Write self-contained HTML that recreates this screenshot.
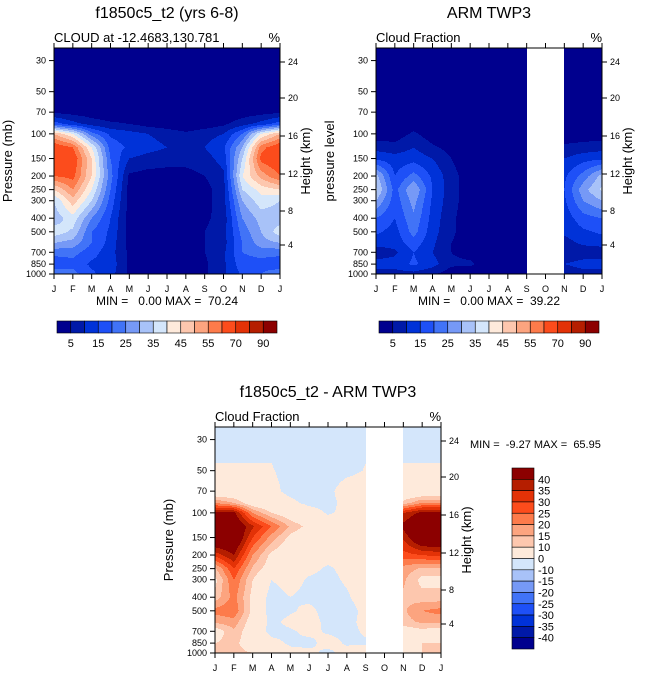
<!DOCTYPE html>
<html><head><meta charset="utf-8">
<style>
html,body{margin:0;padding:0;background:#fff;}
svg{display:block;font-family:"Liberation Sans",sans-serif;}
text{white-space:pre;}
</style></head>
<body>
<svg id="chart" width="647" height="676" viewBox="0 0 647 676" xmlns="http://www.w3.org/2000/svg">
<g id="layer"></g>
</svg>
<script>
// ---------- data ----------
const months = ['J','F','M','A','M','J','J','A','S','O','N','D','J'];
const pressureLevels = [24.4,50,70,85,100,125,150,200,250,300,400,500,600,700,850,1000];
const pressureTicks = [30,50,70,100,150,200,250,300,400,500,700,850,1000];
const heightTicks = [24,20,16,12,8,4];
const boundsFull = [5,10,15,20,25,30,35,40,45,50,55,60,70,80,90];
const boundsDiff = [-40,-35,-30,-25,-20,-15,-10,0,10,15,20,25,30,35,40];
const colorbarLabelsFull = ['5','15','25','35','45','55','70','90'];
const colorbarLabelsDiff = ['40','35','30','25','20','15','10','0','-10','-15','-20','-25','-30','-35','-40'];
const palette = ['#00008e','#0019a8','#0032d8','#1e50f7','#4173f7','#7699f6','#a8c2f8','#d4e6fb','#feeadb','#fdc7ae','#fca47f','#fd7b4b','#fc4c1c','#e33207','#b51e00','#8c0000'];

const modelCloud = [
[0,0,0,0,0,0,0,0,0,0,0,0,0],
[0,0,0,0,0,0,0,0,0,0,0,0,0],
[4,3,2,1,1,0.5,0,0,0,0.5,2,3,4],
[18,12,8,6,5,3,2,1,2,4,8,12,18],
[50,40,22,14,12,10,8,6,8,10,20,40,50],
[65,60,40,18,14,12,10,8,10,14,30,58,65],
[66,65,45,20,10,8,7,7,8,12,35,62,66],
[60,62,45,22,4,3,3,3,5,9,40,52,60],
[45,55,40,20,3,2,2,2,3,8,35,42,45],
[35,48,35,18,3,1,1,1,3,8,30,38,35],
[32,38,25,15,3,1,1,1,4,7,25,32,32],
[38,34,20,14,3,1,1,1,5,8,22,30,38],
[30,28,20,13,3,1,1,1,5,8,20,28,30],
[22,22,17,12,4,1,1,1,5,9,20,22,22],
[16,18,14,13,4,1,1,1,4,9,18,18,16],
[24,22,16,12,4,1,1,1,4,9,16,20,24]];

const obsCloud = [
[0,0,0,0,0,0,0,0,0,null,0,0,0],
[0,0,0,0,0,0,0,0,0,null,0,0,0],
[0,0,0,0,0,0,0,0,0,null,0,0,0],
[1,1,2,1,0,0,0,0,0,null,1,1,1],
[2,2,6,2,1,0,0,0,0,null,2,2,2],
[8,7,10,6,3,1,0,0,1,null,6,7,8],
[14,12,13,10,5,1,0,0,1,null,10,13,14],
[32,15,22,14,7,2,1,1,1,null,14,22,32],
[36,18,30,15,7,2,1,1,1,null,15,28,36],
[30,17,27,14,7,2,1,1,1,null,14,25,30],
[20,15,24,13,6,2,1,1,1,null,12,18,20],
[16,13,22,12,6,2,1,1,1,null,11,14,16],
[12,12,18,11,5,2,1,1,1,null,8,11,12],
[7,9,15,10,5,3,1,1,1,null,6,7,7],
[12,12,16,12,6,6,2,1,1,null,10,12,12],
[8,8,8,6,2,1,1,1,1,null,6,8,8]];

const diffCloud = [
[-1,-1,-1,-1,-1,-1,-1,-1,-1,null,-1,-1,-1],
[0.2,0.2,0.2,0.2,-1,-2,-2,-1,0.2,null,0.2,0.2,0.2],
[2,2,2,1,-1,-2,-1,2,2,null,2,2,2],
[20,15,5,2,1,-1,-1,1,2,null,12,20,20],
[42,42,20,10,5,2,-0.5,1,3,null,35,42,42],
[50,48,36,25,14,8,3,3,8,null,42,50,50],
[50,50,30,18,8,4,3,3,5,null,36,50,50],
[32,40,20,8,4,3,3,3,3,null,28,30,32],
[14,30,14,6,4,2,-1,2,3,null,18,14,14],
[8,25,10,0,3,-1,-2,1,3,null,16,8,8],
[12,22,8,-3,0,-2,-3,-1,4,null,14,12,12],
[22,24,8,-3,-1,2,-3,-3,2,null,14,20,22],
[16,18,6,-2,2,3,-2,-2,2,null,13,16,16],
[6,14,5,-2,-1,2,-1,-2,1,null,6,8,6],
[10,12,5,2,-1,-2,3,-1,-1,null,5,10,10],
[12,12,10,6,2,2,-2,3,4,null,6,10,12]];

// ---------- helpers ----------
const NS='http://www.w3.org/2000/svg';
const layer=document.getElementById('layer');
function mk(tag,attrs,parent){const e=document.createElementNS(NS,tag);for(const k in attrs)e.setAttribute(k,attrs[k]);(parent||layer).appendChild(e);return e;}
function txt(x,y,s,size,anchor,parent,rot){const e=mk('text',{x:x,y:y,'font-size':size,'text-anchor':anchor||'start',fill:'#000'},parent);if(rot)e.setAttribute('transform','rotate(-90 '+x+' '+y+')');e.textContent=s;return e;}
const PTOP=24.4, LTOT=Math.log10(1000/PTOP);
function colorIdx(v,b){let i=0;while(i<b.length&&v>=b[i])i++;return i;}
function valueAt(data,m,p){
  const lp=Math.log10(p);
  let r=0;while(r<pressureLevels.length-2&&Math.log10(pressureLevels[r+1])<lp)r++;
  const l0=Math.log10(pressureLevels[r]),l1=Math.log10(pressureLevels[r+1]);
  let fy=(lp-l0)/(l1-l0);fy=Math.max(0,Math.min(1,fy));
  let c=Math.min(11,Math.floor(m));const fx=m-c;
  const a=data[r][c],b=data[r][c+1],d=data[r+1][c],e=data[r+1][c+1];
  if(a===null||b===null||d===null||e===null)return null;
  return (a*(1-fx)+b*fx)*(1-fy)+(d*(1-fx)+e*fx)*fy;
}

function panel(o){
  const g=mk('g',{},layer);
  
  
  const L=o.x,T=o.y,W=226,H=226;
  const xs=m=>L+m*W/12;
  const ys=p=>T+H*Math.log10(p/PTOP)/LTOT;
  const field=mk('g',{},g);
  
  
  for(let py=0;py<H;py++){
    const p=PTOP*Math.pow(10,(py+0.5)/H*LTOT);
    let runStart=0,runCol=undefined;
    for(let px=0;px<=W;px++){
      let col='end';
      if(px<W){const v=valueAt(o.data,(px+0.5)/W*12,p);col=v===null?null:palette[colorIdx(v,o.bounds)];}
      if(col!==runCol){
        if(runCol!==undefined&&runCol!==null){
          const r=mk('rect',{x:L+runStart,y:T+py,width:px-runStart,height:1.05,fill:runCol},field);
          
          
        }
        runStart=px;runCol=col;
      }
    }
  }
  const fr=mk('rect',{x:L,y:T,width:W,height:H,fill:'none',stroke:'#000','stroke-width':1},g);
  
  
  const ax=mk('g',{stroke:'#000','stroke-width':1},g);
  
  
  months.forEach((mn,i)=>{
    const x=xs(i);
    mk('line',{x1:x,y1:T+H,x2:x,y2:T+H+5},ax);
    mk('line',{x1:x,y1:T,x2:x,y2:T-5},ax);
    const t=txt(x,T+H+18,mn,9,'middle',g);
    
    
  });
  pressureTicks.forEach(p=>{
    const y=ys(p);
    mk('line',{x1:L,y1:y,x2:L-5,y2:y},ax);
    const t=txt(L-8,y+3,String(p),9,'end',g);
    
    
  });
  const hOff=[14,50,88,126,163,197];
  heightTicks.forEach((h,i)=>{
    const y=T+hOff[i]*(H/226);
    mk('line',{x1:L+W,y1:y,x2:L+W+5,y2:y},ax);
    const t=txt(L+W+8,y+3,String(h),9,'start',g);
    
    
  });
  let t=txt(L,T-6,o.sub,13,'start',g);
  t=txt(L+W,T-6,'%',13,'end',g);
  t=txt(L-42,T+H/2,o.ytitle,13,'middle',g,true);
  t=txt(L+W+30,T+H/2,'Height (km)',13,'middle',g,true);
  if(o.title){t=txt(L+W/2,T-30,o.title,16,'middle',g);}
  if(o.minmax){t=txt(L+W/2,T+H+31,o.minmax,12,'middle',g);}
  if(o.hbar){
    const cb=mk('g',{},g);
    
    
    const bx=L+3,bw=220/16;
    palette.forEach((c,i)=>{
      const r=mk('rect',{x:bx+i*bw,y:T+H+47,width:bw,height:12,fill:c,stroke:'#000','stroke-width':0.6},cb);
      
      
    });
    colorbarLabelsFull.forEach((s,i)=>{
      const tt=txt(bx+(1+2*i)*bw,T+H+73,s,11,'middle',cb);
      
      
    });
  }
}

panel({name:'model-panel',x:54,y:48,data:modelCloud,bounds:boundsFull,sub:'CLOUD at -12.4683,130.781',ytitle:'Pressure (mb)',title:'f1850c5_t2 (yrs 6-8)',minmax:'MIN =   0.00 MAX =  70.24',hbar:true});
panel({name:'obs-panel',x:376,y:48,data:obsCloud,bounds:boundsFull,sub:'Cloud Fraction',ytitle:'pressure level',title:'ARM TWP3',minmax:'MIN =   0.00 MAX =  39.22',hbar:true});
panel({name:'diff-panel',x:215,y:427,data:diffCloud,bounds:boundsDiff,sub:'Cloud Fraction',ytitle:'Pressure (mb)',title:'f1850c5_t2 - ARM TWP3'});

let mm=txt(470,448,'MIN =  -9.27 MAX =  65.95',11,'start');


const vcb=mk('g',{});


const vh=181/16;
palette.slice().reverse().forEach((c,i)=>{
  const r=mk('rect',{x:512,y:468+i*vh,width:22,height:vh,fill:c,stroke:'#000','stroke-width':0.6},vcb);
  
  
});
colorbarLabelsDiff.forEach((s,i)=>{
  const t=txt(538,468+(i+1)*vh+4,s,11,'start',vcb);
  
  
});
</script>
</body></html>
